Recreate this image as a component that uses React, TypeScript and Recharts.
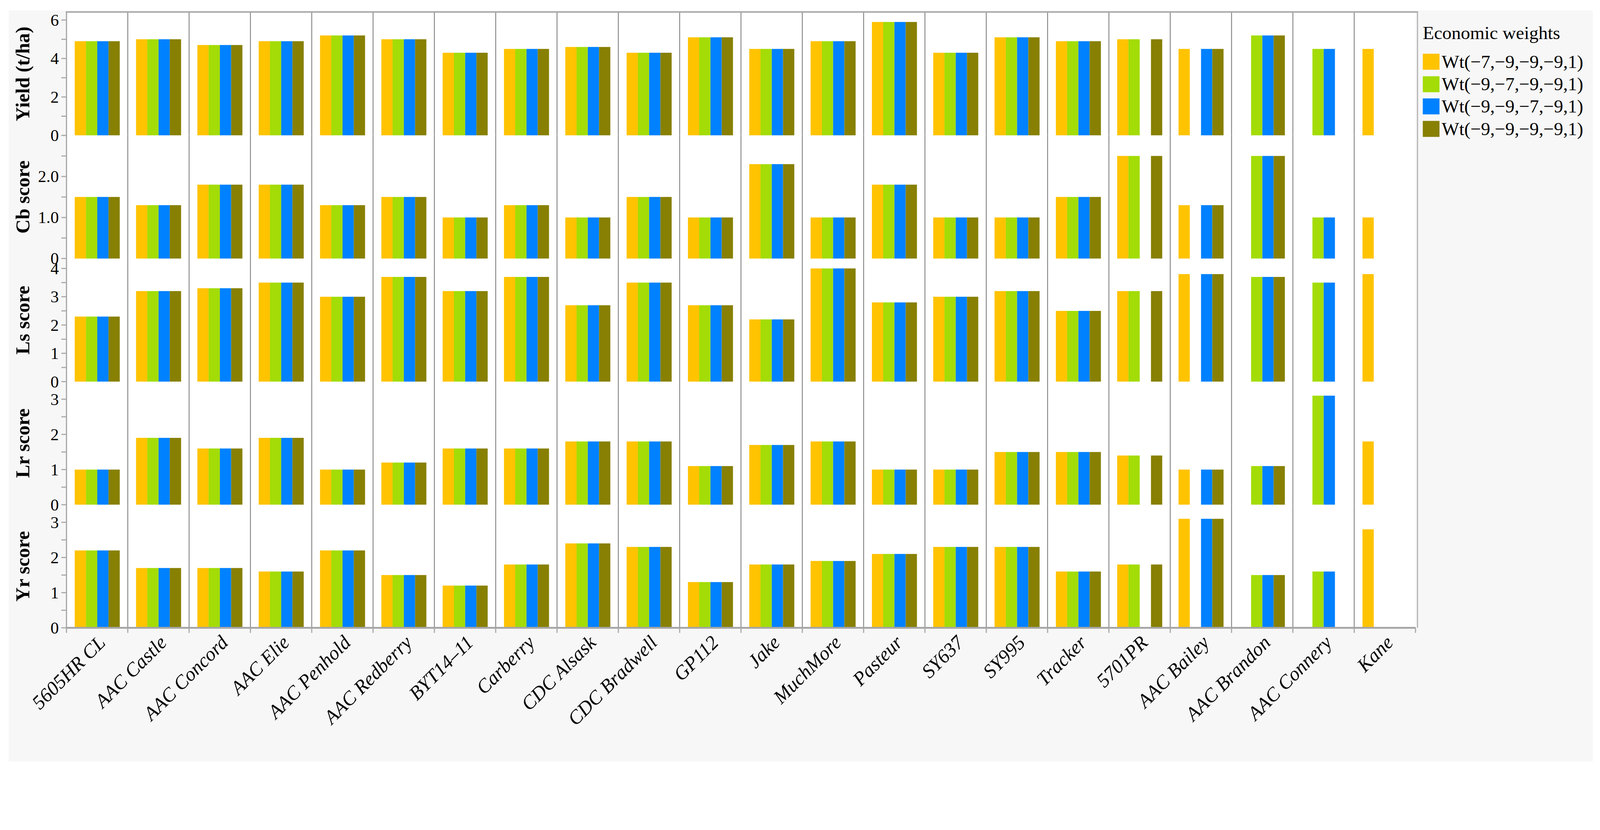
import React from 'react';
import { Bar, BarChart, CartesianGrid, ReferenceLine, XAxis, YAxis } from 'recharts';

// cultivars on the x axis
const categories = [
  '5605HR CL', 'AAC Castle', 'AAC Concord', 'AAC Elie', 'AAC Penhold', 'AAC Redberry',
  'BYT14–11', 'Carberry', 'CDC Alsask', 'CDC Bradwell', 'GP112', 'Jake', 'MuchMore',
  'Pasteur', 'SY637', 'SY995', 'Tracker', '5701PR', 'AAC Bailey', 'AAC Brandon',
  'AAC Connery', 'Kane',
];

// trait values (same under every weighting where the cultivar is selected)
const yieldTha = [4.9, 5.0, 4.7, 4.9, 5.2, 5.0, 4.3, 4.5, 4.6, 4.3, 5.1, 4.5, 4.9, 5.9, 4.3, 5.1, 4.9, 5.0, 4.5, 5.2, 4.5, 4.5];
const cbScore = [1.5, 1.3, 1.8, 1.8, 1.3, 1.5, 1.0, 1.3, 1.0, 1.5, 1.0, 2.3, 1.0, 1.8, 1.0, 1.0, 1.5, 2.5, 1.3, 2.5, 1.0, 1.0];
const lsScore = [2.3, 3.2, 3.3, 3.5, 3.0, 3.7, 3.2, 3.7, 2.7, 3.5, 2.7, 2.2, 4.0, 2.8, 3.0, 3.2, 2.5, 3.2, 3.8, 3.7, 3.5, 3.8];
const lrScore = [1.0, 1.9, 1.6, 1.9, 1.0, 1.2, 1.6, 1.6, 1.8, 1.8, 1.1, 1.7, 1.8, 1.0, 1.0, 1.5, 1.5, 1.4, 1.0, 1.1, 3.1, 1.8];
const yrScore = [2.2, 1.7, 1.7, 1.6, 2.2, 1.5, 1.2, 1.8, 2.4, 2.3, 1.3, 1.8, 1.9, 2.1, 2.3, 2.3, 1.6, 1.8, 3.1, 1.5, 1.6, 2.8];

// which cultivars each weighting selects (1 = bar drawn)
const wt1Has = [1, 1, 1, 1, 1, 1, 1, 1, 1, 1, 1, 1, 1, 1, 1, 1, 1, 1, 1, 0, 0, 1];
const wt2Has = [1, 1, 1, 1, 1, 1, 1, 1, 1, 1, 1, 1, 1, 1, 1, 1, 1, 1, 0, 1, 1, 0];
const wt3Has = [1, 1, 1, 1, 1, 1, 1, 1, 1, 1, 1, 1, 1, 1, 1, 1, 1, 0, 1, 1, 1, 0];
const wt4Has = [1, 1, 1, 1, 1, 1, 1, 1, 1, 1, 1, 1, 1, 1, 1, 1, 1, 1, 1, 1, 0, 0];

const seriesNames = ['Wt(−7,−9,−9,−9,1)', 'Wt(−9,−7,−9,−9,1)', 'Wt(−9,−9,−7,−9,1)', 'Wt(−9,−9,−9,−9,1)'];
const seriesKeys = ['wt1', 'wt2', 'wt3', 'wt4'];
const seriesColors = ['#FFC300', '#A3DC06', '#0081FF', '#878003'];
const seriesHas = [wt1Has, wt2Has, wt3Has, wt4Has];

const yieldTicks = [0, 1, 2, 3, 4, 5, 6];
const yieldTickLabels = ['0', '', '2', '', '4', '', '6'];
const cbTicks = [0, 0.5, 1, 1.5, 2, 2.5];
const cbTickLabels = ['0', '', '1.0', '', '2.0', ''];
const lsTicks = [0, 0.5, 1, 1.5, 2, 2.5, 3, 3.5, 4];
const lsTickLabels = ['0', '', '1', '', '2', '', '3', '', '4'];
const scoreTicks = [0, 0.5, 1, 1.5, 2, 2.5, 3];
const scoreTickLabels = ['0', '', '1', '', '2', '', '3'];

const panels = [
  { title: 'Yield (t/ha)', values: yieldTha, max: 6.4, ticks: yieldTicks, labels: yieldTickLabels },
  { title: 'Cb score', values: cbScore, max: 3.0, ticks: cbTicks, labels: cbTickLabels },
  { title: 'Ls score', values: lsScore, max: 4.35, ticks: lsTicks, labels: lsTickLabels },
  { title: 'Lr score', values: lrScore, max: 3.5, ticks: scoreTicks, labels: scoreTickLabels },
  { title: 'Yr score', values: yrScore, max: 3.5, ticks: scoreTicks, labels: scoreTickLabels },
];

const PAGE_W = 4406;
const PAGE_H = 2125;
const CHART_W = 3910;
const AXIS_W = 183;
const PLOT_R = 3898;
const PLOT_TOP = 34;
const PLOT_H = 339;
const PAD = 30;
const X_AXIS_H = 360;
const BAND = (PLOT_R - AXIS_W) / categories.length;

function buildRows(values: number[]) {
  return categories.map((name, i) => {
    const row: Record<string, string | number | null> = { name };
    seriesKeys.forEach((k, s) => {
      row[k] = seriesHas[s][i] ? values[i] : null;
    });
    return row;
  });
}

function ValueTick({ x, y, payload, ticks, labels }: any) {
  const idx = ticks.indexOf(payload?.value);
  const text = idx >= 0 ? labels[idx] : '';
  if (!text) return null;
  return (
    <text x={x} y={y} dy="0.34em" textAnchor="end" fontSize={46} fill="#000">
      {text}
    </text>
  );
}

function CategoryTick({ x, y, payload, index }: any) {
  const half = payload?.offset ?? BAND / 2;
  const isLast = index === categories.length - 1;
  return (
    <g>
      <line x1={x - half} x2={x - half} y1={y} y2={y + 14} stroke="#a6a6a6" strokeWidth={3} />
      {isLast && <line x1={x + half} x2={x + half} y1={y} y2={y + 14} stroke="#a6a6a6" strokeWidth={3} />}
      <text
        transform={`translate(${x + 26},${y + 44}) rotate(-45)`}
        textAnchor="end"
        fontSize={54}
        fontStyle="italic"
        fill="#000"
      >
        {payload?.value}
      </text>
    </g>
  );
}

function Panel({ panel, index }: { panel: (typeof panels)[number]; index: number }) {
  const isBottom = index === panels.length - 1;
  const rows = buildRows(panel.values);
  const height = PAD + PLOT_H + (isBottom ? X_AXIS_H : PAD);
  return (
    <div style={{ position: 'absolute', left: 0, top: PLOT_TOP + index * PLOT_H - PAD }}>
      <BarChart
        width={CHART_W}
        height={height}
        data={rows}
        margin={{ top: PAD, right: CHART_W - PLOT_R, left: 0, bottom: isBottom ? 0 : PAD }}
        barCategoryGap="13.5%"
        barGap={0}
      >
        <CartesianGrid horizontal={false} vertical={false} fill="#ffffff" />
        <XAxis
          dataKey="name"
          interval={0}
          height={isBottom ? X_AXIS_H : 0}
          axisLine={isBottom ? { stroke: '#a6a6a6', strokeWidth: 5 } : { stroke: '#dadada', strokeWidth: 3 }}
          tickLine={false}
          tickSize={0}
          tickMargin={0}
          tick={isBottom ? <CategoryTick /> : false}
        />
        <YAxis
          width={AXIS_W}
          domain={[0, panel.max]}
          ticks={panel.ticks}
          interval={0}
          allowDataOverflow
          tickSize={14}
          tickMargin={7}
          axisLine={{ stroke: '#a6a6a6', strokeWidth: 3 }}
          tickLine={{ stroke: '#a6a6a6', strokeWidth: 3 }}
          tick={<ValueTick ticks={panel.ticks} labels={panel.labels} />}
          label={{
            value: panel.title,
            angle: -90,
            position: 'insideLeft',
            offset: 62,
            fill: '#000',
            fontSize: 54,
            fontWeight: 'bold',
            style: { textAnchor: 'middle' },
          }}
        />
        {categories.map((c) => (
          <ReferenceLine key={c} x={c} position="start" stroke="#868686" strokeWidth={2.5} />
        ))}
        <ReferenceLine x={categories[categories.length - 1]} position="end" stroke="#868686" strokeWidth={2.5} />
        {seriesKeys.map((k, s) => (
          <Bar key={k} dataKey={k} name={seriesNames[s]} fill={seriesColors[s]} isAnimationActive={false} />
        ))}
      </BarChart>
    </div>
  );
}

function LegendBox() {
  return (
    <div style={{ position: 'absolute', left: 3918, top: 64, fontSize: 51, lineHeight: '54px', color: '#000' }}>
      <div style={{ marginBottom: 21, whiteSpace: 'nowrap' }}>Economic weights</div>
      {seriesNames.map((name, s) => (
        <div key={name} style={{ display: 'flex', alignItems: 'center', height: 61.7 }}>
          <span style={{ display: 'inline-block', width: 46, height: 44, background: seriesColors[s], marginRight: 6 }} />
          <span style={{ whiteSpace: 'nowrap' }}>{name}</span>
        </div>
      ))}
    </div>
  );
}

export default function App() {
  // the figure is laid out in reference pixels; fit it to the actual viewport width
  const vw = typeof window !== 'undefined' && window.innerWidth ? window.innerWidth : PAGE_W;
  const scale = vw / PAGE_W;
  return (
    <div
      style={{
        position: 'absolute',
        left: 0,
        top: 0,
        width: PAGE_W * scale,
        height: PAGE_H * scale,
        overflow: 'hidden',
        background: '#ffffff',
      }}
    >
      <div
        style={{
          position: 'absolute',
          left: 0,
          top: 0,
          width: PAGE_W,
          height: PAGE_H,
          transform: `scale(${scale})`,
          transformOrigin: '0 0',
          fontFamily: '"Liberation Serif", serif',
        }}
      >
        <div style={{ position: 'absolute', left: 24, top: 29, width: 4362, height: 2068, background: '#f7f7f7' }} />
        {panels.map((p, i) => (
          <Panel key={p.title} panel={p} index={i} />
        ))}
        {/* plot frame: top and right edges */}
        <div
          style={{
            position: 'absolute',
            left: AXIS_W - 2,
            top: PLOT_TOP - 3,
            width: PLOT_R - AXIS_W + 9,
            height: panels.length * PLOT_H + 3,
            borderTop: '4px solid #a6a6a6',
            borderRight: '3px solid #b0b0b0',
            boxSizing: 'border-box',
            pointerEvents: 'none',
          }}
        />
        <LegendBox />
      </div>
    </div>
  );
}
